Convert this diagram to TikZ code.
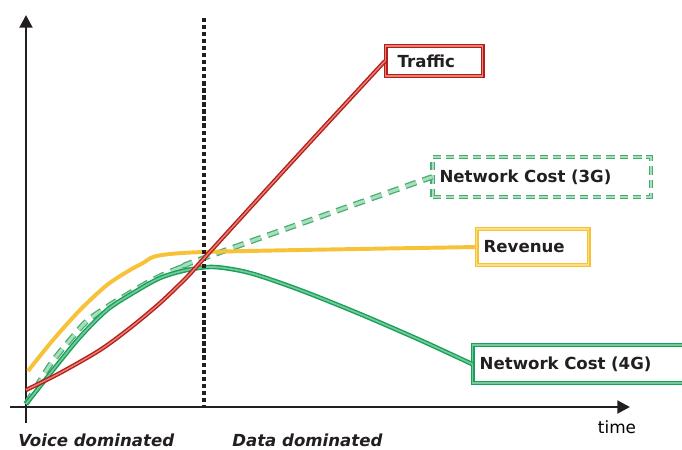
\documentclass[tikz,border=0pt]{standalone}
\usepackage{fontspec}
\setmainfont{DejaVu Sans}
\usepackage{tikz}
\usetikzlibrary{arrows.meta}

\definecolor{axisgray}{RGB}{35,31,32}
\definecolor{trafficred}{RGB}{180,30,30}
\definecolor{trafficlight}{RGB}{232,130,112}
\definecolor{revyellow}{RGB}{247,194,56}
\definecolor{revlight}{RGB}{252,222,130}
\definecolor{netgreen}{RGB}{22,160,92}
\definecolor{netlight}{RGB}{120,200,152}
\definecolor{dashgreen}{RGB}{70,172,112}
\definecolor{dashlight}{RGB}{168,222,188}

\tikzset{
    axis/.style={line width=2pt, axisgray, -{Triangle[length=9pt,width=9pt]}},
    labelbox/.style={anchor=west, align=left, inner xsep=0.175cm, inner ysep=0pt,
        font=\fontsize{11.8}{14}\selectfont\bfseries, text=axisgray},
    region/.style={anchor=base west, inner sep=0pt,
        font=\fontsize{11.8}{14}\selectfont\bfseries\itshape, text=axisgray}
}

\begin{document}
\begin{tikzpicture}[x=0.025cm, y=-0.025cm]
    \clip (0,0) rectangle (682,449);
    \fill[white] (0,0) rectangle (682,449);

    % Axes
    \draw[axis] (26,423) -- (26,15);
    \draw[axis] (10,407) -- (630,407);
    \node (time) at (617,427) {\fontsize{12}{14}\selectfont time};

    % Start points on the y-axis
    \coordinate (tstart) at (26,390);
    \coordinate (rstart) at (28,371);
    \coordinate (gstart) at (26,404);

    % Label boxes
    \node[labelbox, draw=trafficred, line width=1pt, double=trafficlight, double distance=1pt,
        inner xsep=0.3cm, text width=1.825cm, minimum height=0.75cm] (traffic) at (385,61) {Traffic};
    \node[labelbox, draw=dashgreen, line width=0.8pt, double=dashlight, double distance=1.4pt,
        dash pattern=on 6pt off 3.5pt, text width=5.1cm, minimum height=1cm] (net3g) at (432,177) {Network Cost (3G)};
    \node[labelbox, draw=revyellow, line width=1pt, double=revlight, double distance=1pt,
        text width=2.45cm, minimum height=0.9cm] (revenue) at (476,247) {Revenue};
    \node[labelbox, draw=netgreen, line width=1pt, double=netlight, double distance=1pt,
        text width=5.6cm, minimum height=0.95cm] (net4g) at (472,364) {Network Cost (4G)};

    % Network cost (3G)
    \draw[dashgreen, line width=0.9pt, double=dashlight, double distance=2.2pt,
        dash pattern=on 8pt off 5pt]
        plot[smooth] coordinates {(gstart) (50,365) (70,340) (87,321) (110,305) (130,293) (147,283) (167,273) (187,265) (204,258) (net3g.west)};

    % Network cost (4G)
    \draw[netgreen, line width=1pt, double=netlight, double distance=1.2pt]
        plot[smooth] coordinates {(gstart) (53,370) (80,337) (107,310) (133,293) (160,278) (187,270) (214,267) (250,273) (300,290) (360,314) (420,340) (net4g.west)};

    % Revenue
    \draw[revyellow, line width=2.8pt]
        plot[smooth] coordinates {(rstart) (53,340) (80,310) (107,285) (130,270) (143,263) (153,257) (170,254) (204,252) (300,250) (revenue.west)};

    % Split between voice and data
    \draw[axisgray, line width=3pt, dash pattern=on 3pt off 2pt] (204,18) -- (204,407);

    % Traffic
    \draw[trafficred, line width=1pt, double=trafficlight, double distance=1pt]
        plot[smooth] coordinates {(tstart) (60,373) (100,350) (130,328) (160,303) (187,277) (207,255) (300,153) (traffic.west)};

    % Phases
    \node[region] (voice) at (18,446) {Voice dominated};
    \node[region] (data) at (232,446) {Data dominated};
\end{tikzpicture}
\end{document}
